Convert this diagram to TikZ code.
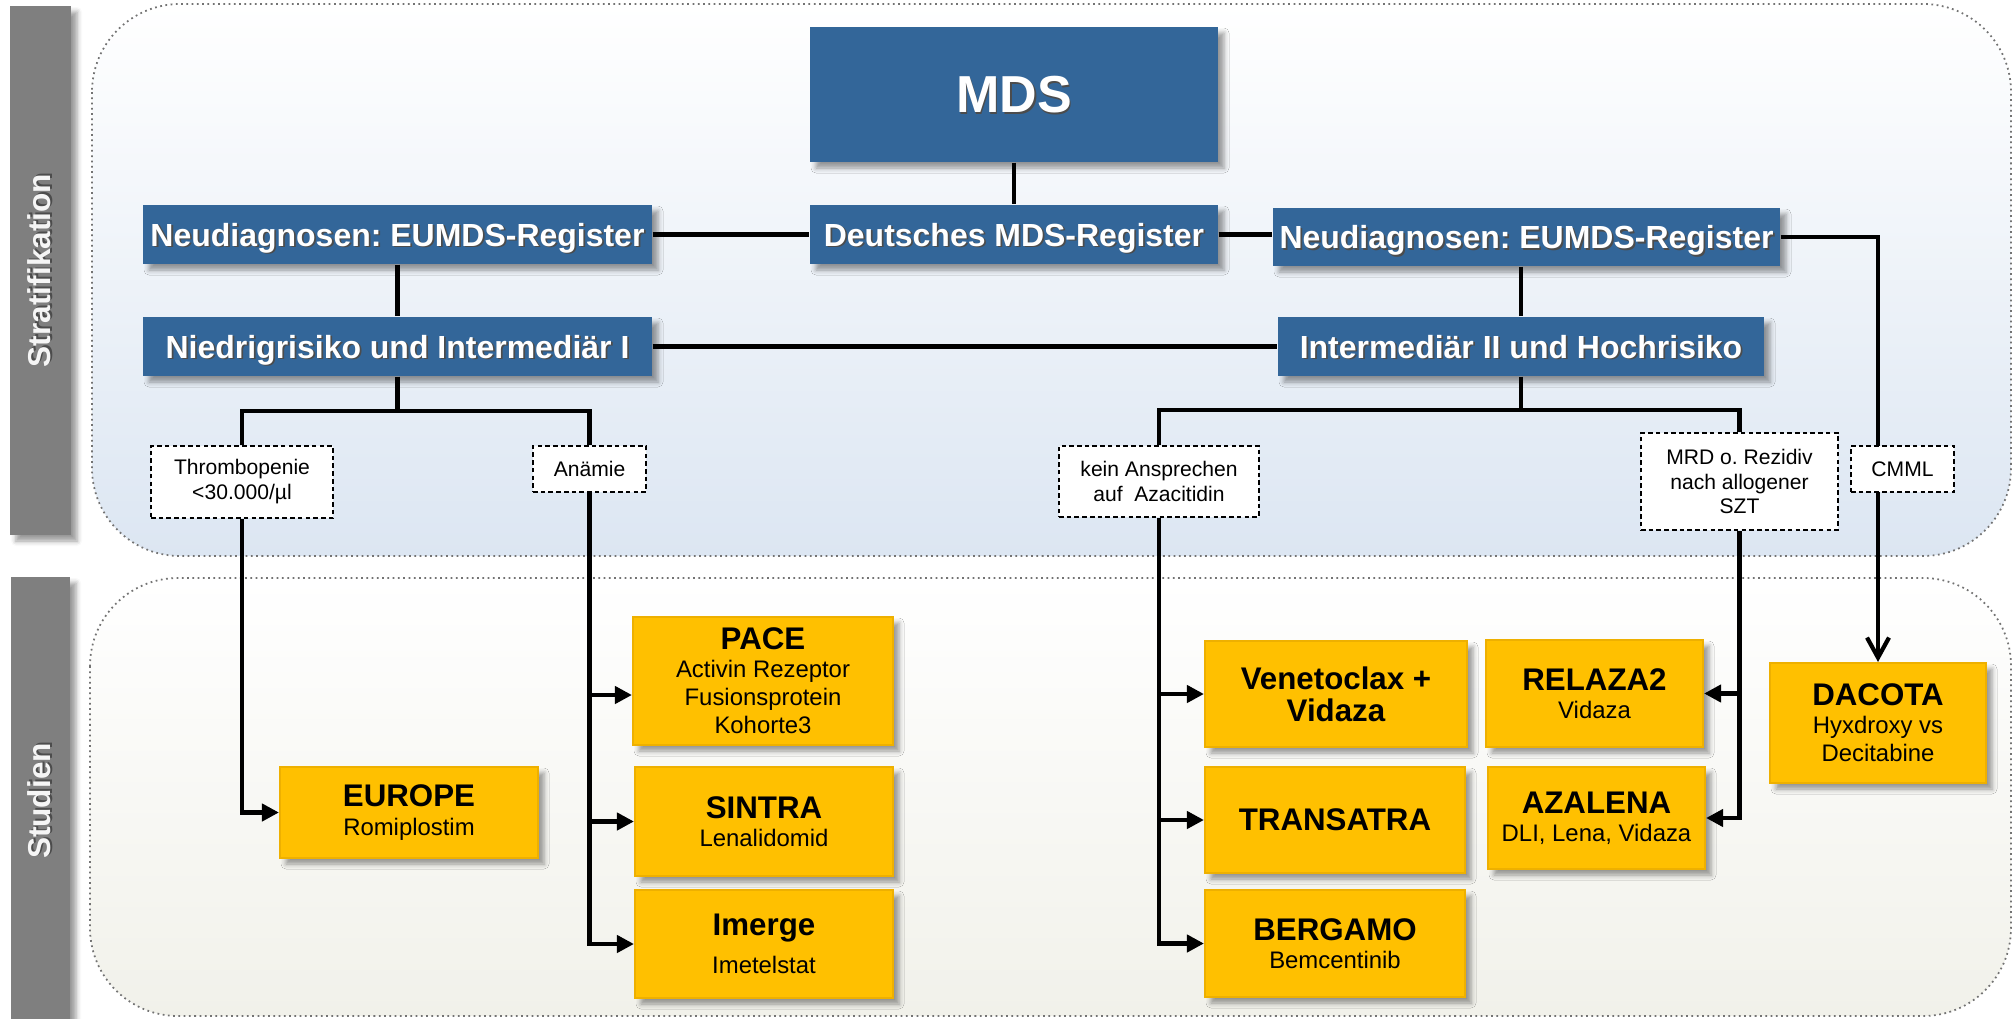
\documentclass[tikz,border=0pt]{standalone}
\usepackage{fontspec}
\setmainfont{Liberation Sans}
\frenchspacing
\usetikzlibrary{arrows.meta,shadows.blur}
\definecolor{mdsblue}{RGB}{51,102,153}
\definecolor{studyorange}{RGB}{255,192,0}
\definecolor{studyedge}{RGB}{238,176,0}
\definecolor{bargray}{RGB}{127,127,127}
\definecolor{topfade}{RGB}{220,230,242}
\definecolor{lowfade}{RGB}{241,241,234}
\newcommand{\shadowed}[1]{\makebox[0pt][l]{\hspace{0.5pt}\raisebox{-0.5pt}{\textcolor{black!70}{#1}}}#1}
\newcommand{\studytitle}[1]{{\bfseries\fontsize{8.9}{10.5}\selectfont #1}}

\begin{document}
\begin{tikzpicture}[
  panel/.style={draw=black!55, densely dotted, line width=0.5pt, rounded corners=0.88cm},
  sidebar/.style={fill=bargray, text=white!96!black, inner sep=0pt, rotate=90,
    font=\bfseries\fontsize{9}{11}\selectfont,
    blur shadow={shadow xshift=0.6mm, shadow yshift=-0.6mm, shadow blur radius=0.5mm, shadow opacity=40}},
  bluebox/.style={fill=mdsblue, text=white, inner sep=0pt, minimum height=0.59cm, text depth=0pt,
    font=\bfseries\fontsize{9.1}{11}\selectfont,
    blur shadow={shadow xshift=0.6mm, shadow yshift=-0.6mm, shadow blur radius=0.5mm, shadow opacity=40}},
  condbox/.style={draw, fill=white, dash pattern=on 1.3pt off 0.9pt, line width=0.5pt,
    inner sep=0pt, align=center, font=\fontsize{6}{7.1}\selectfont},
  studybox/.style={fill=studyorange, draw=studyedge, line width=0.6pt, inner sep=0pt,
    align=center, font=\fontsize{6.8}{8}\selectfont,
    blur shadow={shadow xshift=0.6mm, shadow yshift=-0.6mm, shadow blur radius=0.5mm, shadow opacity=40}},
  wire/.style={line width=1.2pt},
  arrowed/.style={-{Triangle[length=1.7mm,width=1.7mm]}},
  openarrow/.style={-{Straight Barb[length=2mm,width=2.2mm,line width=1.2pt]}}
]
\useasboundingbox (0,0) rectangle (20.14,-10.19);

% panels
\shade[top color=white, bottom color=topfade, rounded corners=0.88cm] (0.92,-0.04) rectangle (20.11,-5.56);
\draw[panel] (0.92,-0.04) rectangle (20.11,-5.56);
\shade[top color=white, bottom color=lowfade, rounded corners=0.88cm] (0.90,-5.78) rectangle (20.11,-10.16);
\draw[panel] (0.90,-5.78) rectangle (20.11,-10.16);

\node[sidebar, minimum width=5.29cm, minimum height=0.61cm] (stratbar) at (0.405,-2.705) {\shadowed{Stratifikation}};
\node[sidebar, minimum width=4.48cm, minimum height=0.59cm] (studbar) at (0.405,-8.01) {\shadowed{Studien}};

% registers and risk groups
\node[bluebox, minimum width=4.08cm, minimum height=1.35cm, font=\bfseries\fontsize{14.8}{17}\selectfont] (mds) at (10.14,-0.945) {\shadowed{MDS}};
\node[bluebox, minimum width=4.08cm] (dmr) at (10.14,-2.345) {\shadowed{Deutsches MDS-Register}};
\node[bluebox, minimum width=5.09cm] (neuL) at (3.975,-2.345) {\shadowed{Neudiagnosen: EUMDS-Register}};
\node[bluebox, minimum width=5.07cm, minimum height=0.58cm] (neuR) at (15.265,-2.37) {\shadowed{Neudiagnosen: EUMDS-Register}};
\node[bluebox, minimum width=5.09cm] (niedrig) at (3.975,-3.465) {\shadowed{Niedrigrisiko und Intermediär I}};
\node[bluebox, minimum width=4.86cm] (inter) at (15.21,-3.465) {\shadowed{Intermediär II und Hochrisiko}};

\coordinate (lsplit) at (3.975,-4.11);
\coordinate (rsplit) at (15.21,-4.10);

% conditions
\node[condbox, minimum width=1.82cm, minimum height=0.72cm] (thromb) at (2.42,-4.82) {Thrombopenie\\<30.000/µl};
\node[condbox, minimum width=1.13cm, minimum height=0.46cm] (anaem) at (5.895,-4.69) {Anämie};
\node[condbox, minimum width=2.00cm, minimum height=0.71cm] (kein) at (11.59,-4.815) {kein Ansprechen\\auf\ \ Azacitidin};
\node[condbox, minimum width=1.97cm, minimum height=0.97cm] (mrd) at (17.395,-4.815) {MRD o. Rezidiv\\nach allogener\\SZT};

% studies
\node[studybox, minimum width=2.58cm, minimum height=0.91cm] (europe) at (4.09,-8.125) {\studytitle{EUROPE}\\Romiplostim};
\node[studybox, minimum width=2.60cm, minimum height=1.28cm] (pace) at (7.63,-6.81) {\studytitle{PACE}\\Activin Rezeptor\\Fusionsprotein\\Kohorte3};
\node[studybox, minimum width=2.58cm, minimum height=1.09cm] (sintra) at (7.64,-8.215) {\studytitle{SINTRA}\\Lenalidomid};
\node[studybox, minimum width=2.58cm, minimum height=1.08cm] (imerge) at (7.64,-9.44) {\studytitle{Imerge}\\[3pt]Imetelstat};
\node[studybox, minimum width=2.62cm, minimum height=1.06cm] (venet) at (13.36,-6.94) {\studytitle{Venetoclax +}\\[1pt]\studytitle{Vidaza}};
\node[studybox, minimum width=2.60cm, minimum height=1.06cm] (transatra) at (13.35,-8.20) {\studytitle{TRANSATRA}};
\node[studybox, minimum width=2.60cm, minimum height=1.07cm] (bergamo) at (13.35,-9.435) {\studytitle{BERGAMO}\\Bemcentinib};
\node[studybox, minimum width=2.17cm, minimum height=1.07cm] (relaza) at (15.945,-6.935) {\studytitle{RELAZA2}\\Vidaza};
\node[studybox, minimum width=2.17cm, minimum height=1.02cm] (azalena) at (15.965,-8.18) {\studytitle{AZALENA}\\DLI, Lena, Vidaza};
\node[studybox, minimum width=2.16cm, minimum height=1.20cm] (dacota) at (18.78,-7.23) {\studytitle{DACOTA}\\Hyxdroxy vs\\Decitabine};

\coordinate (pacein) at ([yshift=-1.4mm]pace.west);

\draw[wire] (mds) -- (dmr);
\draw[wire] (neuL) -- (dmr);
\draw[wire] (dmr.east) -- (dmr.east -| neuR.west);
\draw[wire] (neuL) -- (niedrig);
\draw[wire] (inter.north |- neuR.south) -- (inter.north);
\draw[wire] (niedrig) -- (inter);
\draw[wire] (niedrig) -- (lsplit);
\draw[wire] (thromb.north) |- (lsplit) -| (anaem.north);
\draw[wire] (inter) -- (rsplit);
\draw[wire] (kein.north) |- (rsplit) -| (mrd.north);
\draw[wire, openarrow] (neuR.east) -| (dacota.north);
\draw[wire, arrowed] (thromb.south) |- (europe.west);
\draw[wire, arrowed] (anaem.south) |- (imerge.west);
\draw[wire, arrowed] (anaem.south |- pacein) -- (pacein);
\draw[wire, arrowed] (anaem.south |- sintra.west) -- (sintra.west);
\draw[wire, arrowed] (kein.south) |- (bergamo.west);
\draw[wire, arrowed] (kein.south |- venet.west) -- (venet.west);
\draw[wire, arrowed] (kein.south |- transatra.west) -- (transatra.west);
\draw[wire, arrowed] (mrd.south) |- (azalena.east);
\draw[wire, arrowed] (mrd.south |- relaza.east) -- (relaza.east);

% CMML sits on the line to DACOTA
\node[condbox, minimum width=1.03cm, minimum height=0.46cm] (cmml) at (19.025,-4.69) {CMML};
\end{tikzpicture}
\end{document}
